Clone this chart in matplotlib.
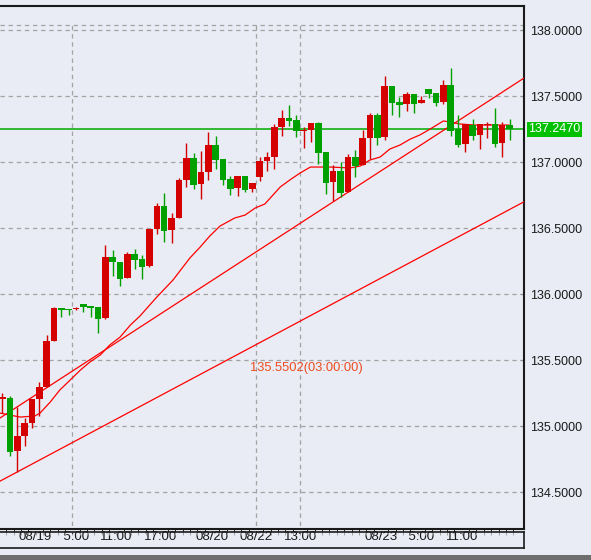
import matplotlib
matplotlib.use("Agg")
import matplotlib.pyplot as plt
import matplotlib.transforms as mtransforms
from matplotlib.patches import Rectangle

plt.rcParams['font.family'] = ['Liberation Sans', 'DejaVu Sans']

# hourly candles, index 0 = 08/18 19:00 (red = up, green = down)
opens = [135.205, 135.212, 134.811, 134.924, 135.023, 135.205, 135.295, 135.644, 135.894, 135.886,
         135.886, 135.924, 135.909, 135.902, 135.818, 136.280, 136.242, 136.121, 136.303, 136.265,
         136.212, 136.492, 136.667, 136.485, 136.576, 136.864, 137.030, 136.833, 136.924, 137.129,
         137.023, 136.871, 136.803, 136.894, 136.795, 136.886, 137.008, 137.038, 137.265, 137.333,
         137.318, 137.235, 137.242, 137.295, 137.076, 136.849, 136.932, 136.773, 137.038, 136.977,
         137.182, 137.356, 137.189, 137.576, 137.455, 137.439, 137.515, 137.447, 137.553, 137.523,
         137.455, 137.583, 137.250, 137.136, 137.280, 137.205, 137.280, 137.288, 137.144, 137.280]
highs = [135.250, 135.227, 135.144, 135.061, 135.205, 135.333, 135.689, 135.902, 135.894, 135.886,
         135.902, 135.924, 135.909, 135.902, 136.371, 136.333, 136.242, 136.318, 136.341, 136.295,
         136.492, 136.689, 136.765, 136.614, 136.879, 137.144, 137.068, 137.083, 137.227, 137.197,
         137.023, 136.894, 136.894, 136.894, 136.841, 137.038, 137.076, 137.288, 137.394, 137.432,
         137.356, 137.265, 137.295, 137.303, 137.076, 136.977, 137.000, 137.061, 137.091, 137.242,
         137.371, 137.371, 137.652, 137.576, 137.492, 137.530, 137.515, 137.500, 137.553, 137.523,
         137.621, 137.712, 137.356, 137.288, 137.326, 137.288, 137.303, 137.409, 137.303, 137.326]
lows = [135.098, 134.773, 134.652, 134.848, 134.985, 135.076, 135.295, 135.644, 135.826, 135.841,
        135.879, 135.864, 135.826, 135.705, 135.811, 136.136, 136.061, 136.121, 136.189, 136.114,
        136.205, 136.455, 136.394, 136.386, 136.576, 136.811, 136.795, 136.720, 136.864, 136.947,
        136.826, 136.750, 136.742, 136.773, 136.773, 136.856, 136.932, 136.947, 137.197, 137.273,
        137.189, 137.106, 137.152, 136.985, 136.758, 136.705, 136.735, 136.773, 136.886, 136.977,
        137.023, 137.129, 137.167, 137.356, 137.341, 137.386, 137.371, 137.447, 137.485, 137.424,
        137.439, 137.197, 137.114, 137.076, 137.167, 137.098, 137.182, 137.114, 137.038, 137.167]
closes = [135.220, 134.803, 134.924, 135.023, 135.205, 135.295, 135.644, 135.894, 135.879, 135.879,
          135.894, 135.902, 135.894, 135.811, 136.280, 136.242, 136.114, 136.303, 136.258, 136.205,
          136.492, 136.667, 136.477, 136.576, 136.864, 137.030, 136.826, 136.924, 137.129, 137.015,
          136.864, 136.795, 136.894, 136.788, 136.841, 137.008, 137.038, 137.265, 137.333, 137.311,
          137.235, 137.242, 137.295, 137.068, 136.841, 136.932, 136.765, 137.038, 136.970, 137.182,
          137.356, 137.182, 137.576, 137.447, 137.432, 137.515, 137.439, 137.470, 137.515, 137.447,
          137.583, 137.235, 137.129, 137.288, 137.197, 137.288, 137.288, 137.136, 137.280, 137.247]

# moving average
ma_idx = [-0.34, 2.4, 4.4, 5.1, 6.5, 7.8, 9.2, 10.6, 11.9, 13.3, 14.6, 16.0, 17.4, 18.7, 21.0,
          23.2, 25.5, 26.9, 28.2, 29.6, 31.6, 33.0, 34.4, 35.7, 37.8, 39.1, 40.5, 41.9, 44.6,
          47.3, 48.7, 50.0, 51.4, 52.7, 54.1, 55.5, 56.8, 58.2, 60.0, 60.9, 62.3, 64.3, 68.9]
ma_val = [135.098, 135.068, 135.076, 135.098, 135.182, 135.273, 135.348, 135.424, 135.485, 135.538,
          135.614, 135.674, 135.765, 135.833, 135.977, 136.106, 136.273, 136.356, 136.439, 136.515,
          136.576, 136.598, 136.652, 136.682, 136.811, 136.864, 136.917, 136.962, 136.962, 136.955,
          136.970, 137.015, 137.038, 137.098, 137.129, 137.174, 137.205, 137.250, 137.311, 137.303,
          137.288, 137.280, 137.280]

# trendlines: two anchor points each (candle index, price)
upper_trend = [(0, 135.073), (70, 137.601)]
lower_trend = [(2, 134.652), (70, 136.670)]

last_price = 137.247
trend_label = '135.5502(03:00:00)'
trend_label_pos = (41.3, 135.44)

yticks = [134.5, 135.0, 135.5, 136.0, 136.5, 137.0, 137.5, 138.0]
xtick_pos = [4.5, 9.5, 15.5, 21.5, 28.5, 34.5, 40.5, 51.5, 56.5, 62.5]
xtick_labels = ['08/19', '\u20075:00', '11:00', '17:00', '08/20', '08/22', '13:00',
                '08/23', '\u20075:00', '11:00']
vgrid_pos = [9.5, 34.5, 40.5]
grid_top = 138.038

bg = '#e9ecf4'
up_col = '#d40000'
dn_col = '#00a000'
edge = '#1a1a1a'

fig = plt.figure(figsize=(5.91, 5.60), dpi=100, facecolor=bg)
ax = fig.add_axes([0, 1 - 529 / 560, 524 / 591, 523 / 560], facecolor=bg)
band = fig.add_axes([0, 1 - 548 / 560, 524 / 591, 16.5 / 560], facecolor=bg, sharex=ax)

xlim = (-0.34, 70.97)
ax.set_xlim(*xlim)
ax.set_ylim(134.220, 138.182)

# grid
gkw = dict(color='#a3a3a3', lw=0.9, linestyle=(0, (3.5, 3)), zorder=1)
for yv in yticks + [grid_top]:
    ax.axhline(yv, **gkw)
for xv in vgrid_pos:
    ax.plot([xv, xv], [134.0, grid_top], **gkw)

# current price line
ax.axhline(last_price, color='#00aa00', lw=1.1, zorder=2)

# MA + trendlines
ax.plot(ma_idx, ma_val, color='#ff0000', lw=0.9, zorder=3)
ax.axline(upper_trend[0], upper_trend[1], color='#ff0000', lw=0.9, zorder=3)
ax.axline(lower_trend[0], lower_trend[1], color='#ff0000', lw=0.9, zorder=3)

# candles
idx = list(range(len(opens)))
cols = [up_col if c >= o else dn_col for o, c in zip(opens, closes)]
ax.vlines(idx, lows, highs, colors=cols, lw=1.0, zorder=4)
bottoms = [min(o, c) for o, c in zip(opens, closes)]
heights = [max(abs(c - o), 0.009) for o, c in zip(opens, closes)]
ax.bar(idx, heights, bottom=bottoms, width=0.9, color=cols, linewidth=0, zorder=5)

ax.text(*trend_label_pos, trend_label, color='#ee4b1e', fontsize=9.3,
        ha='center', va='center', zorder=6)

# axes styling
for s in ['left']:
    ax.spines[s].set_visible(False)
for s in ['top', 'right', 'bottom']:
    ax.spines[s].set_color(edge)
    ax.spines[s].set_linewidth(1.5)
ax.yaxis.tick_right()
ax.set_yticks(yticks)
ax.set_yticklabels(['%.4f' % v for v in yticks])
ax.tick_params(axis='y', direction='in', length=3, width=0.8, color='#909090',
               labelsize=9, labelcolor='#1a1a1a', pad=4.5)
ax.tick_params(axis='x', bottom=False, labelbottom=False)

trans = mtransforms.blended_transform_factory(ax.transAxes, ax.transData)
ax.text(1.0 + 4.5 / 524, last_price, '%.4f' % last_price, transform=trans,
        color='white', fontsize=9, ha='left', va='center', clip_on=False,
        bbox=dict(boxstyle='square,pad=0.12', fc='#00c000', ec='none'))

band.set_ylim(0, 1)
band.set_yticks([])
band.spines['left'].set_visible(False)
for s in ['top', 'right', 'bottom']:
    band.spines[s].set_color(edge)
    band.spines[s].set_linewidth(1.2)
band.set_xticks(xtick_pos)
band.set_xticklabels(xtick_labels)
band.set_xticks([i - 0.5 for i in range(1, 71)], minor=True)
band.tick_params(axis='x', which='both', bottom=False, top=True, labelbottom=True,
                 labeltop=False, direction='in', length=2.5, width=0.7, color='#a0a0a0',
                 labelsize=9.5, labelcolor='#1a1a1a', pad=-12.5)

# taskbar strip at bottom
fig.patches.append(Rectangle((0, 0), 1, 5 / 560, transform=fig.transFigure,
                             facecolor='#6e6e6e', edgecolor='none'))

fig.savefig('out.png', dpi=100, facecolor=bg)
